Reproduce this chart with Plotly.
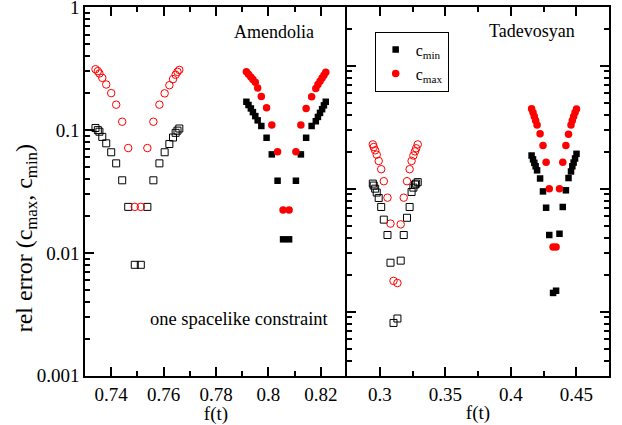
import plotly.graph_objects as go

# ---------------- data ----------------
# Amendolia, open symbols (left group)
am_open_f = [0.7340, 0.7349, 0.7355, 0.7366, 0.7381, 0.7400, 0.7419, 0.7442, 0.7465, 0.7490,
             0.7513, 0.7538, 0.7561, 0.7584, 0.7604, 0.7622, 0.7636, 0.7646, 0.7653, 0.7660]
am_open_cmax = [0.313, 0.302, 0.289, 0.266, 0.235, 0.200, 0.161, 0.117, 0.0714, 0.0237,
                0.0237, 0.0714, 0.117, 0.161, 0.199, 0.232, 0.260, 0.282, 0.298, 0.309]
am_open_cmin = [0.104, 0.100, 0.097, 0.088, 0.078, 0.066, 0.0536, 0.039, 0.0237, 0.0080,
                0.0080, 0.0237, 0.039, 0.0536, 0.066, 0.077, 0.087, 0.095, 0.099, 0.103]

# Amendolia, filled symbols (right group)
am_fill_f = [0.7916, 0.7924, 0.7933, 0.7941, 0.7950, 0.7959, 0.7973, 0.7993, 0.8013, 0.8035, 0.8056,
             0.8079, 0.8105, 0.8124, 0.8144, 0.8165, 0.8181, 0.8189, 0.8197, 0.8205, 0.8212, 0.8219]
am_fill_cmax = [0.298, 0.285, 0.271, 0.258, 0.245, 0.220, 0.188, 0.152, 0.110, 0.0667, 0.0224,
                0.0224, 0.0667, 0.110, 0.150, 0.187, 0.218, 0.235, 0.250, 0.265, 0.280, 0.295]
am_fill_cmin = [0.170, 0.160, 0.150, 0.140, 0.130, 0.120, 0.108, 0.0866, 0.0634, 0.0387, 0.0129,
                0.0129, 0.0387, 0.0634, 0.0866, 0.108, 0.118, 0.128, 0.138, 0.148, 0.159, 0.170]

# Tadevosyan, open symbols (left group)
ta_open_f = [0.2947, 0.2954, 0.2965, 0.2977, 0.2992, 0.3011, 0.3031, 0.3059, 0.3082, 0.3105,
             0.3135, 0.3160, 0.3183, 0.3208, 0.3228, 0.3243, 0.3257, 0.3269, 0.3278, 0.3290]
ta_open_cmax = [0.0229, 0.0218, 0.0205, 0.0189, 0.0168, 0.0144, 0.0115, 0.00845, 0.0052, 0.00178,
                0.00171, 0.00513, 0.00845, 0.0115, 0.0144, 0.0168, 0.0186, 0.0201, 0.0213, 0.0229]
ta_open_cmin = [0.0110, 0.0106, 0.0100, 0.0093, 0.0084, 0.0071, 0.0056, 0.0042, 0.0025, 0.00081,
                0.00088, 0.0026, 0.0042, 0.0058, 0.0071, 0.0094, 0.0102, 0.0108, 0.0110, 0.0113]

# Tadevosyan, filled symbols (right group)
ta_fill_f = [0.4159, 0.4170, 0.4180, 0.4190, 0.4201, 0.4224, 0.4246, 0.4270, 0.4294, 0.4323,
             0.4346, 0.4372, 0.4397, 0.4421, 0.4441, 0.4460, 0.4470, 0.4480, 0.4491, 0.4502]
ta_fill_cmax = [0.0446, 0.0416, 0.0386, 0.0358, 0.0329, 0.0279, 0.0224, 0.0164, 0.0100, 0.00336,
                0.00336, 0.0100, 0.0164, 0.0224, 0.0277, 0.0329, 0.0358, 0.0386, 0.0416, 0.0444]
ta_fill_cmin = [0.0186, 0.0173, 0.0162, 0.0152, 0.0141, 0.0121, 0.0095, 0.0070, 0.0042, 0.00142,
                0.00148, 0.0043, 0.0071, 0.0097, 0.0122, 0.0138, 0.0152, 0.0163, 0.0176, 0.0192]

RED = "#ff0000"
BLK = "#000000"
FONT = "Liberation Serif"

fig = go.Figure()

def add(x, y, symbol, color, xa, ya, name=None, show=False, size=7):
    open_ = symbol.endswith("open")
    fig.add_trace(go.Scatter(
        x=x, y=y, mode="markers", xaxis=xa, yaxis=ya,
        name=name, showlegend=show,
        marker=dict(symbol=symbol, color=color, size=size,
                    line=dict(width=1, color=color) if open_ else dict(width=0))))

# left panel (Amendolia)
add(am_open_f, am_open_cmin, "square-open", BLK, "x", "y", size=7)
add(am_open_f, am_open_cmax, "circle-open", RED, "x", "y", size=7.5)
add(am_fill_f, am_fill_cmin, "square", BLK, "x", "y", size=6.5)
add(am_fill_f, am_fill_cmax, "circle", RED, "x", "y", size=7.5)
# right panel (Tadevosyan)
add(ta_open_f, ta_open_cmin, "square-open", BLK, "x2", "y2", size=7)
add(ta_open_f, ta_open_cmax, "circle-open", RED, "x2", "y2", size=7.5)
add(ta_fill_f, ta_fill_cmin, "square", BLK, "x2", "y2", name="c<sub>min</sub>", show=True, size=6.5)
add(ta_fill_f, ta_fill_cmax, "circle", RED, "x2", "y2", name="c<sub>max</sub>", show=True, size=7.5)

tickfont = dict(family=FONT, size=19, color="black")
common_x = dict(showgrid=False, zeroline=False, showline=True, linecolor="black", linewidth=1.5,
                ticks="inside", ticklen=9, tickwidth=1.5, tickcolor="black", mirror="ticks",
                tickfont=tickfont, automargin=False,
                title=dict(text="f(t)", font=dict(family=FONT, size=19, color="black"), standoff=2))
common_y = dict(type="log", showgrid=False, zeroline=False, showline=True, linecolor="black",
                linewidth=1.5, ticks="inside", ticklen=9, tickwidth=1.5, tickcolor="black",
                dtick=1, automargin=False,
                minor=dict(ticks="inside", ticklen=5, tickwidth=1.5, tickcolor="black",
                           dtick="D1", showgrid=False))

def ann(text, x, y, size=18, angle=0):
    return dict(text=text, x=x, y=y, xref="paper", yref="paper", xanchor="center",
                yanchor="middle", showarrow=False, textangle=angle,
                font=dict(family=FONT, size=size, color="black"))

fig.update_layout(
    width=622, height=425,
    margin=dict(l=84.5, r=13.3, t=7, b=49),
    paper_bgcolor="white", plot_bgcolor="white",
    font=dict(family=FONT, size=18, color="black"),
    xaxis=dict(domain=[0, 0.5], range=[0.73, 0.83], tickvals=[0.74, 0.76, 0.78, 0.8, 0.82],
               ticktext=["0.74", "0.76", "0.78", "0.8", "0.82"],
               minor=dict(ticks="inside", ticklen=5, tickwidth=1.5, tickcolor="black",
                          tickvals=[0.75, 0.77, 0.79, 0.81]),
               anchor="y", **common_x),
    xaxis2=dict(domain=[0.5, 1], range=[0.275, 0.475], tickvals=[0.3, 0.35, 0.4, 0.45],
                ticktext=["0.3", "0.35", "0.4", "0.45"],
                minor=dict(ticks="inside", ticklen=5, tickwidth=1.5, tickcolor="black",
                           tickvals=[0.325, 0.375, 0.425]),
                anchor="y2", **common_x),
    yaxis=dict(range=[-3.002, 0.002], anchor="x", mirror=False, tickvals=[0.001, 0.01, 0.1, 1],
               ticktext=["0.001", "0.01", "0.1", "1"], tickfont=tickfont,
               ticklabeloverflow="allow", **common_y),
    yaxis2=dict(range=[-3.523, -0.523], anchor="x2", mirror="ticks", showticklabels=False,
                **common_y),
    showlegend=True,
    legend=dict(x=0.5528, y=0.933, xanchor="left", yanchor="top",
                bordercolor="black", borderwidth=1, bgcolor="white",
                font=dict(family=FONT, size=16, color="black"),
                tracegroupgap=0, itemwidth=30),
    annotations=[
        ann("Amendolia", 0.3615, 0.933),
        ann("Tadevosyan", 0.8537, 0.936),
        ann("one spacelike constraint", 0.2951, 0.1545, size=18.5),
        ann("rel error (c<sub>max</sub>, c<sub>min</sub>)", -0.112, 0.374, size=24, angle=-90),
    ],
)

fig.write_html("out.html")
